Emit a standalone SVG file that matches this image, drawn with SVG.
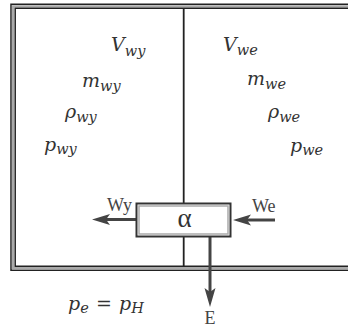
<svg xmlns="http://www.w3.org/2000/svg" width="348" height="332" viewBox="0 0 348 332">
<style>
.m{font-family:"DejaVu Serif",serif;font-style:italic;font-size:19px;fill:#333}
.s{font-size:14.500px}
.l{font-family:"Liberation Serif",serif;font-size:18px;fill:#444}
.a{stroke:#444;stroke-width:3;fill:none}
.h{fill:#444}
</style>
<rect width="348" height="332" fill="#fff"/>
<g id="chamber" fill="none">
<path d="M349 4.300H11V270.200H349" stroke="#222" stroke-width="1.500"/>
<path d="M349 6.300H13V268.200H349" stroke="#aaa" stroke-width="2.200"/>
<path d="M349 8.300H15.200V266.200H349" stroke="#222" stroke-width="1.500"/>
<path d="M183.700 8V266" stroke="#222" stroke-width="1.800"/>
</g>
<g id="connectors">
<path class="a" d="M136 219.500H104"/><path class="h" d="M92 219.500L110 214L106 219.500L110 225Z"/>
<path class="a" d="M275 220H245"/><path class="h" d="M233 220L251 214.500L247 220L251 225.500Z"/>
<path class="a" d="M210 237V292"/><path class="h" d="M210 307L204.500 288L210 292L215.500 288Z"/>
</g>
<g id="alpha">
<rect x="136.500" y="203.500" width="94" height="33" fill="#fff" stroke="#333" stroke-width="2"/>
<rect x="139" y="206" width="89" height="28" fill="#fff" stroke="#aaa" stroke-width="1.500"/>
<text x="184.500" y="226.500" text-anchor="middle" font-family="Liberation Serif, serif" font-size="27" fill="#333">α</text>
</g>
<g id="labels">
<text class="l" x="107" y="211">Wy</text>
<text class="l" x="252" y="212">We</text>
<text class="l" x="210" y="324" text-anchor="middle">E</text>
<text class="m" x="111" y="51">V<tspan class="s" dy="5">wy</tspan></text>
<text class="m" x="82" y="87">m<tspan class="s" dy="4">wy</tspan></text>
<text class="m" x="65" y="118">ρ<tspan class="s" dy="4">wy</tspan></text>
<text class="m" x="44" y="151">p<tspan class="s" dy="3">wy</tspan></text>
<text class="m" x="223" y="51">V<tspan class="s" dy="4">we</tspan></text>
<text class="m" x="247" y="85">m<tspan class="s" dy="4">we</tspan></text>
<text class="m" x="268" y="118">ρ<tspan class="s" dy="4">we</tspan></text>
<text class="m" x="290" y="152">p<tspan class="s" dy="3">we</tspan></text>
<text class="m" x="68" y="310">p<tspan class="s" dy="3">e</tspan></text>
<text class="m" x="96" y="310" style="font-style:normal">=</text>
<text class="m" x="119" y="310">p<tspan class="s" dy="3">H</tspan></text>
</g>
</svg>
